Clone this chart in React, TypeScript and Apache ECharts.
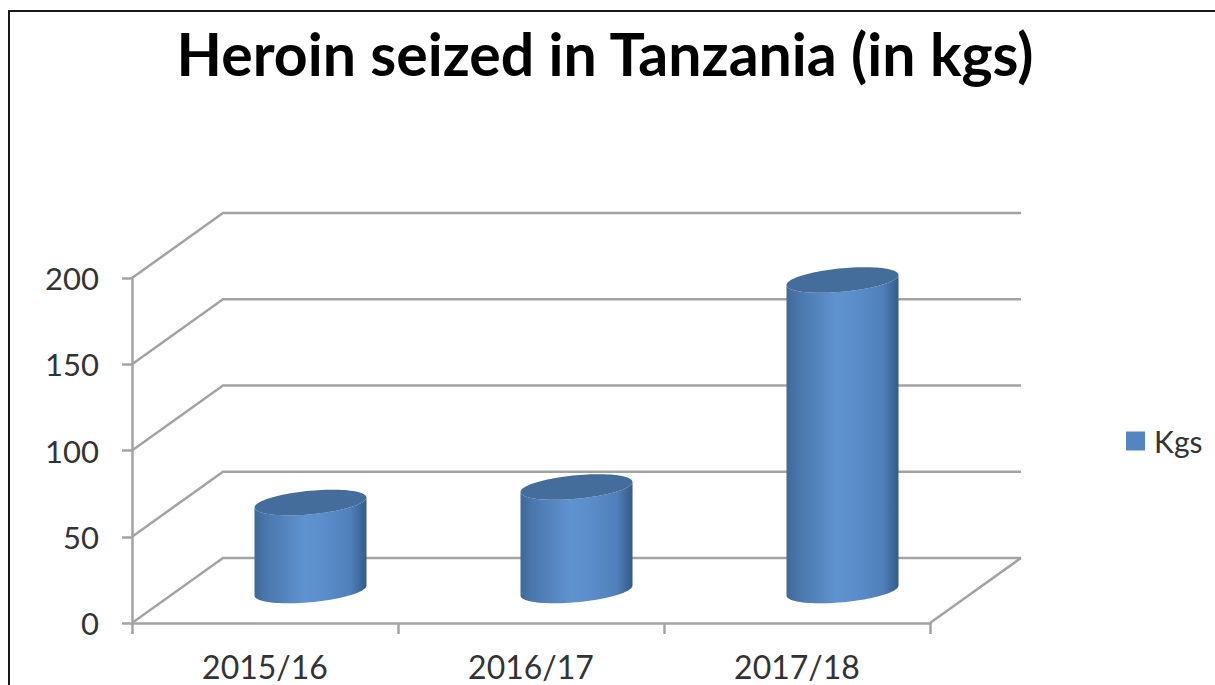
import React, { useEffect, useRef } from "react";
import * as echarts from "echarts";

const titleText = "Heroin seized in Tanzania (in kgs)";
const seriesName = "Kgs";
const categories = ["2015/16", "2016/17", "2017/18"];
const kgs = [51, 60, 180];
const yTicks = [0, 50, 100, 150, 200];

const DEPTH_X = 91;
const DEPTH_Y = 65;
const RX = 56;
const RY = 11.8;
const TILT = 5;
const FONT = "Lato, 'Open Sans', sans-serif";
const GRID_LINE = "#a3a3a3";

function wallItem(params: any, api: any) {
  const v = api.value(1);
  const p = api.coord([0, v]);
  const cs = params.coordSys;
  const y = p[1];
  const left = cs.x;
  const right = cs.x + cs.width;
  const children: any[] = [
    {
      type: "polyline",
      shape: {
        points: [
          [left, y],
          [left + DEPTH_X, y - DEPTH_Y],
          [right + DEPTH_X, y - DEPTH_Y],
        ],
      },
      style: { stroke: GRID_LINE, lineWidth: 2.5, fill: "none" },
    },
  ];
  if (v === 0) {
    children.push({
      type: "line",
      shape: { x1: right, y1: y, x2: right + DEPTH_X, y2: y - DEPTH_Y },
      style: { stroke: GRID_LINE, lineWidth: 2.5 },
    });
  }
  return { type: "group", children };
}

function ring(cx: number, cy: number, from: number, to: number, n: number) {
  const pts: number[][] = [];
  for (let i = 0; i <= n; i++) {
    const t = from + ((to - from) * i) / n;
    pts.push([cx + RX * Math.cos(t), cy - TILT * Math.cos(t) + RY * Math.sin(t)]);
  }
  return pts;
}

function cylinderItem(_params: any, api: any) {
  const idx = api.value(0);
  const top = api.coord([idx, api.value(1)]);
  const base = api.coord([idx, 0]);
  const cx = base[0] + DEPTH_X / 2;
  const topY = top[1] - DEPTH_Y / 2;
  const baseY = base[1] - DEPTH_Y / 2;
  const body = [
    ...ring(cx, baseY, 0, Math.PI, 48),
    ...ring(cx, topY, Math.PI, 0, 48),
  ];
  return {
    type: "group",
    children: [
      {
        type: "polygon",
        shape: { points: body },
        style: {
          fill: new echarts.graphic.LinearGradient(0, 0, 1, 0, [
            { offset: 0, color: "#3f6899" },
            { offset: 0.1, color: "#4a76ab" },
            { offset: 0.45, color: "#5f93d0" },
            { offset: 0.6, color: "#5b8ecb" },
            { offset: 0.86, color: "#4f80b9" },
            { offset: 1, color: "#365a88" },
          ]),
        },
      },
      {
        type: "polygon",
        shape: { points: ring(cx, topY, 0, Math.PI * 2, 96) },
        style: { fill: "#456d9c" },
      },
    ],
  };
}

export default function App() {
  const ref = useRef<HTMLDivElement>(null);
  useEffect(() => {
    document.body.style.margin = "0";
    const chart = echarts.init(ref.current!, undefined, { renderer: "svg" });
    chart.setOption({
      animation: false,
      backgroundColor: "#ffffff",
      title: {
        text: titleText,
        left: 600,
        top: 19,
        textAlign: "center",
        textStyle: { fontFamily: FONT, fontWeight: "bold", fontSize: 59, color: "#000000" },
      },
      legend: {
        data: [seriesName],
        left: 1126,
        top: 426,
        padding: 0,
        icon: "rect",
        itemWidth: 19,
        itemHeight: 19,
        itemGap: 0,
        textStyle: { fontFamily: FONT, fontSize: 30, color: "#333333", padding: [0, 0, 0, 4] },
      },
      graphic: [
        {
          type: "rect",
          shape: { x: 9, y: 11, width: 1300, height: 800 },
          style: { fill: "none", stroke: "#1a1a1a", lineWidth: 2 },
          silent: true,
        },
      ],
      grid: { left: 132, top: 278, width: 798, height: 345 },
      xAxis: {
        type: "category",
        data: categories,
        axisLine: { lineStyle: { color: GRID_LINE, width: 2.5 } },
        axisTick: { show: true, length: 11, lineStyle: { color: GRID_LINE, width: 2.5 } },
        axisLabel: { fontFamily: FONT, fontSize: 32, color: "#333333", margin: 27 },
      },
      yAxis: {
        type: "value",
        min: 0,
        max: 200,
        interval: 50,
        axisLine: { show: true, lineStyle: { color: GRID_LINE, width: 2.5 } },
        axisTick: { show: true, length: 10, lineStyle: { color: GRID_LINE, width: 2.5 } },
        axisLabel: { fontFamily: FONT, fontSize: 31, color: "#333333", margin: 33, padding: [3, 0, 0, 0] },
        splitLine: { show: false },
      },
      series: [
        {
          type: "custom",
          name: "walls",
          data: yTicks.map((v) => [0, v]),
          encode: { x: 0, y: 1 },
          renderItem: wallItem,
          silent: true,
          z: 1,
        },
        {
          type: "custom",
          name: seriesName,
          data: kgs.map((v, i) => [i, v]),
          encode: { x: 0, y: 1 },
          itemStyle: { color: "#5485c0" },
          renderItem: cylinderItem,
          silent: true,
          z: 3,
        },
      ],
    });
    return () => chart.dispose();
  }, []);
  return <div ref={ref} style={{ width: 1215, height: 685 }} />;
}
